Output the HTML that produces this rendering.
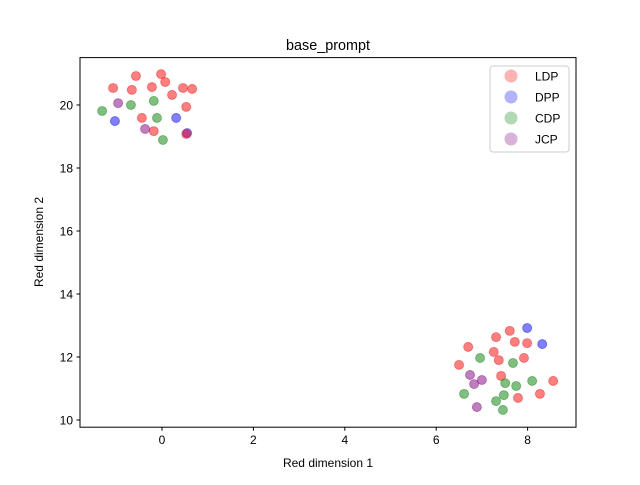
<!DOCTYPE html>
<html><head><meta charset="utf-8"><style>
body{margin:0;background:#fff}
svg text{font-family:"Liberation Sans",sans-serif;}
</style></head><body>
<svg id="chart" width="640" height="480" viewBox="0 0 640 480">
<rect width="640" height="480" fill="#fff"/>
<text x="328" y="50" text-anchor="middle" font-size="14.4">base_prompt</text>
<g id="marks"></g>
<g id="axes"></g>
<rect x="80" y="57.6" width="496" height="369.6" fill="none" stroke="#000" stroke-width="1"/>
<text x="328" y="467" text-anchor="middle" font-size="12">Red dimension 1</text>
<text transform="translate(43,242) rotate(-90)" text-anchor="middle" font-size="12">Red dimension 2</text>
<g>
<rect x="490" y="66" width="79" height="86" rx="3" fill="#fff" fill-opacity="0.8" stroke="#ccc"/>
</g>
<g id="legend-items"></g>
</svg>
<script>
const seriesNames=["LDP","DPP","CDP","JCP"];
const seriesColors=["red","blue","green","purple"];
const ldpX=[-0.57,-0.02,0.07,-1.07,-0.66,-0.22,0.46,0.66,0.22,0.53,-0.44,-0.18,0.53,7.61,7.31,7.72,7.99,6.70,7.26,7.37,7.92,6.50,7.42,8.56,8.27,7.79];
const ldpY=[20.92,20.98,20.73,20.54,20.48,20.57,20.54,20.51,20.32,19.94,19.59,19.17,19.08,12.83,12.63,12.48,12.44,12.32,12.16,11.90,11.97,11.75,11.40,11.24,10.83,10.70];
const dppX=[-1.03,0.31,0.55,7.99,8.32];
const dppY=[19.49,19.59,19.11,12.92,12.41];
const cdpX=[-1.31,-0.68,-0.18,-0.11,0.02,6.96,7.68,7.51,8.10,7.75,6.61,7.48,7.31,7.46];
const cdpY=[19.81,20.0,20.13,19.59,18.89,11.97,11.81,11.17,11.24,11.08,10.83,10.79,10.60,10.32];
const jcpX=[-0.96,-0.37,6.74,7.00,6.83,6.89];
const jcpY=[20.06,19.24,11.43,11.27,11.14,10.41];
const xTicks=[0,2,4,6,8];
const yTicks=[10,12,14,16,18,20];
const NS="http://www.w3.org/2000/svg";
function sx(v){return 162+(v-0)*45.7;}
function sy(v){return 105-(v-20)*31.5;}
const marks=document.getElementById('marks');
const axes=document.getElementById('axes');
const xs=[ldpX,dppX,cdpX,jcpX], ys=[ldpY,dppY,cdpY,jcpY];
const order=[1,0,2,3];
order.forEach(s=>{
  xs[s].forEach((xv,i)=>{
    const c=document.createElementNS(NS,'circle');
    c.setAttribute('cx',sx(xv));c.setAttribute('cy',sy(ys[s][i]));c.setAttribute('r',4.5);
    c.setAttribute('fill',seriesColors[s]);c.setAttribute('fill-opacity',0.5);
    c.setAttribute('stroke',seriesColors[s]);c.setAttribute('stroke-opacity',0.5);c.setAttribute('stroke-width',0.8);
    
    
    marks.appendChild(c);
  });
});
xTicks.forEach(t=>{
  const g=document.createElementNS(NS,'g');
  
  
  const x=sx(t);
  g.innerHTML=`<line x1="${x}" x2="${x}" y1="427.2" y2="430.7" stroke="#000"/><text x="${x}" y="444" text-anchor="middle" font-size="12">${t}</text>`;
  axes.appendChild(g);
});
yTicks.forEach(t=>{
  const g=document.createElementNS(NS,'g');
  
  
  const y=sy(t);
  g.innerHTML=`<line x1="76.5" x2="80" y1="${y}" y2="${y}" stroke="#000"/><text x="73" y="${y+4.3}" text-anchor="end" font-size="12">${t}</text>`;
  axes.appendChild(g);
});
const leg=document.getElementById('legend-items');
seriesNames.forEach((n,i)=>{
  const g=document.createElementNS(NS,'g');
  
  
  const y=76+i*21;
  g.innerHTML=`<circle cx="511" cy="${y}" r="6.5" fill="${seriesColors[i]}" fill-opacity="0.3"/><text x="535" y="${y+4.3}" font-size="12">${n}</text>`;
  leg.appendChild(g);
});
</script>
</body></html>
